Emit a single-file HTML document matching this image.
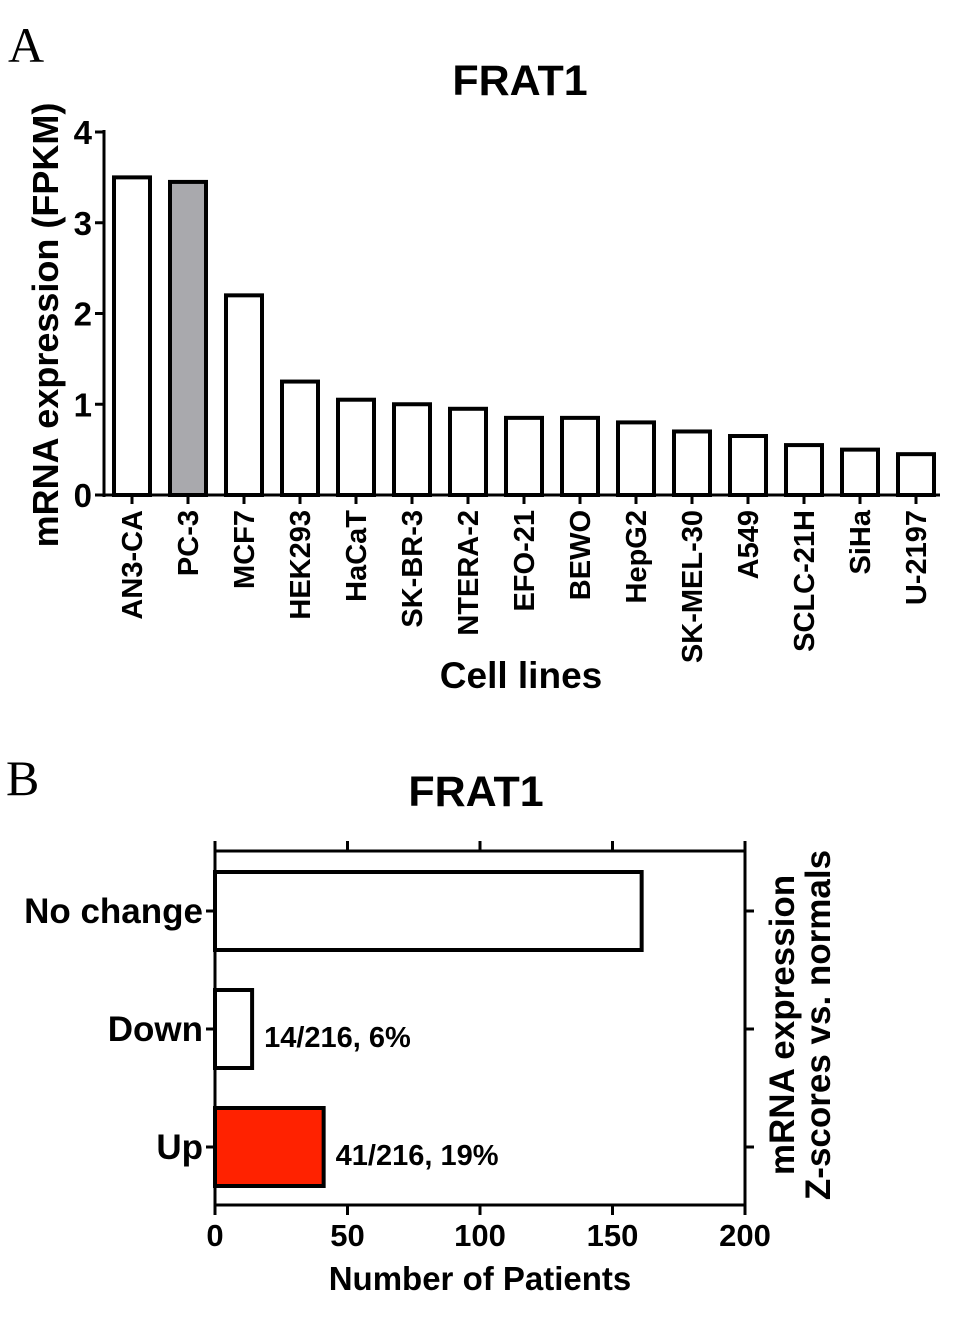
<!DOCTYPE html>
<html><head><meta charset="utf-8"><style>
html,body{margin:0;padding:0;background:#fff;}
svg{display:block;font-family:"Liberation Sans",Arial,sans-serif;font-weight:bold;}
</style></head><body>
<svg id="svg" width="957" height="1318" viewBox="0 0 957 1318" xmlns="http://www.w3.org/2000/svg">
<text x="8" y="62" font-family="Liberation Serif,serif" font-weight="normal" font-size="50">A</text>
<text x="520" y="95" font-size="43" text-anchor="middle">FRAT1</text>
<g id="ga"></g>
<text transform="translate(58,325) rotate(-90)" font-size="36" text-anchor="middle">mRNA expression (FPKM)</text>
<text x="521" y="688" font-size="37" text-anchor="middle">Cell lines</text>

<text x="6" y="795" font-family="Liberation Serif,serif" font-weight="normal" font-size="50">B</text>
<text x="476" y="806" font-size="43" text-anchor="middle">FRAT1</text>
<g id="gb"></g>
<text x="480" y="1290" font-size="33" text-anchor="middle">Number of Patients</text>
<text transform="translate(794,1025) rotate(-90)" font-size="35" text-anchor="middle">mRNA expression</text>
<text transform="translate(830,1025) rotate(-90)" font-size="35" text-anchor="middle">Z-scores vs. normals</text>
</svg>
<script>
const cellLines=["AN3-CA","PC-3","MCF7","HEK293","HaCaT","SK-BR-3","NTERA-2","EFO-21","BEWO","HepG2","SK-MEL-30","A549","SCLC-21H","SiHa","U-2197"];
const fpkm=[3.5,3.45,2.2,1.25,1.05,1.0,0.95,0.85,0.85,0.8,0.7,0.65,0.55,0.5,0.45];
const yTicksA=[0,1,2,3,4];
const categoriesB=["No change","Down","Up"];
const patients=[161,14,41];
const barLabelsB=["","14/216, 6%","41/216, 19%"];
const xTicksB=[0,50,100,150,200];

const NS="http://www.w3.org/2000/svg";
function mk(tag,attrs,parent){const e=document.createElementNS(NS,tag);for(const k in attrs)e.setAttribute(k,attrs[k]);parent.appendChild(e);return e;}
// Chart A
const ga=document.getElementById('ga');
const ay0=495,ay1=132,ax0=104,band=56;
const yA=v=>ay0-(v/4)*(ay0-ay1);
const xA=i=>ax0+band/2+i*band;
cellLines.forEach((c,i)=>{
  const r=mk('rect',{x:xA(i)-18,y:yA(fpkm[i]),width:36,height:ay0-yA(fpkm[i]),fill:i===1?'#a9a9ad':'#fff',stroke:'#000','stroke-width':4},ga);
  
  
  const t=mk('line',{x1:xA(i),x2:xA(i),y1:ay0,y2:ay0+9,stroke:'#000','stroke-width':3},ga);
  
  
  const l=mk('text',{transform:`translate(${xA(i)+10},510) rotate(-90)`,'font-size':29,'text-anchor':'end'},ga);
  l.textContent=c;
  
  
});
let e=mk('line',{x1:ax0,x2:ax0,y1:ay1-2,y2:ay0+2,stroke:'#000','stroke-width':3},ga);


e=mk('line',{x1:ax0-2,x2:940,y1:ay0,y2:ay0,stroke:'#000','stroke-width':3},ga);


yTicksA.forEach(v=>{
  const t=mk('line',{x1:ax0-9,x2:ax0,y1:yA(v),y2:yA(v),stroke:'#000','stroke-width':3},ga);
  
  
  const l=mk('text',{x:ax0-12,y:yA(v)+12,'font-size':33,'text-anchor':'end'},ga);
  l.textContent=v;
  
  
});
// Chart B
const gb=document.getElementById('gb');
const bx0=215,bx1=745,by0=851,by1=1205,bband=(by1-by0)/3;
const xB=v=>bx0+v/200*(bx1-bx0);
const yB=i=>by0+bband/2+i*bband+1;
categoriesB.forEach((c,i)=>{
  const r=mk('rect',{x:bx0,y:yB(i)-39,width:xB(patients[i])-bx0,height:78,fill:i===2?'#ff2200':'#fff',stroke:'#000','stroke-width':4},gb);
  
  
  [[bx0-9,bx0],[bx1,bx1+9]].forEach(p=>{
    const t=mk('line',{x1:p[0],x2:p[1],y1:yB(i),y2:yB(i),stroke:'#000','stroke-width':3},gb);
    
    
  });
  const l=mk('text',{x:bx0-12,y:yB(i)+12,'font-size':35,'text-anchor':'end'},gb);
  l.textContent=c;
  
  
  if(barLabelsB[i]){
    const b=mk('text',{x:xB(patients[i])+12,y:yB(i)+18,'font-size':29},gb);
    b.textContent=barLabelsB[i];
    
    
  }
});
[[bx0,bx0,by0-6,by1+2,'left-axis-b'],[bx1,bx1,by0-6,by1+2,'right-axis-b'],[bx0,bx1,by0,by0,'top-axis-b'],[bx0,bx1,by1,by1,'bottom-axis-b']].forEach(a=>{
  const l=mk('line',{x1:a[0],x2:a[1],y1:a[2],y2:a[3],stroke:'#000','stroke-width':3},gb);
  
  
});
xTicksB.forEach(v=>{
  const t=mk('line',{x1:xB(v),x2:xB(v),y1:by1,y2:by1+10,stroke:'#000','stroke-width':3},gb);
  
  
  const t2=mk('line',{x1:xB(v),x2:xB(v),y1:by0-10,y2:by0,stroke:'#000','stroke-width':3},gb);
  
  
  const l=mk('text',{x:xB(v),y:by1+41,'font-size':31,'text-anchor':'middle'},gb);
  l.textContent=v;
  
  
});
</script>
</body></html>
